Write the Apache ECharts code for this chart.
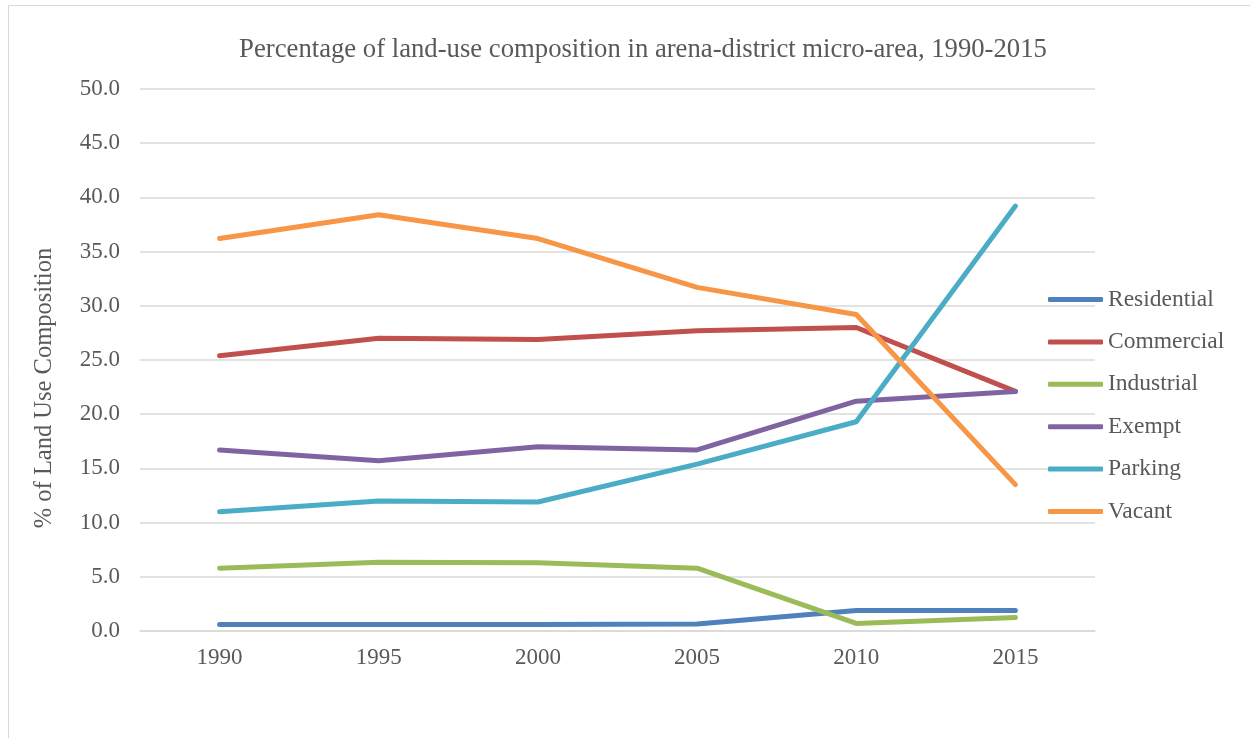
<!DOCTYPE html>
<html>
<head>
<meta charset="utf-8">
<script src="https://cdn.jsdelivr.net/npm/echarts@6/dist/echarts.min.js"></script>
<style>
  html, body { margin: 0; padding: 0; background: #fff; }
  #chart { width: 1250px; height: 738px; }
</style>
</head>
<body>
<div id="chart"></div>
<script>
const years = ['1990', '1995', '2000', '2005', '2010', '2015'];
const residential = [0.6, 0.6, 0.6, 0.65, 1.9, 1.9];
const commercial = [25.4, 27.0, 26.9, 27.7, 28.0, 22.1];
const industrial = [5.8, 6.35, 6.3, 5.8, 0.7, 1.25];
const exempt = [16.7, 15.7, 17.0, 16.7, 21.2, 22.1];
const parking = [11.0, 12.0, 11.9, 15.4, 19.3, 39.2];
const vacant = [36.2, 38.4, 36.2, 31.7, 29.2, 13.5];

const seriesList = [
    { name: 'Residential', data: residential, color: '#4F81BD' },
    { name: 'Commercial', data: commercial, color: '#C0504D' },
    { name: 'Industrial', data: industrial, color: '#9BBB59' },
    { name: 'Exempt', data: exempt, color: '#8064A2' },
    { name: 'Parking', data: parking, color: '#4BACC6' },
    { name: 'Vacant', data: vacant, color: '#F79646' }
];

const font = 'Liberation Serif';
const textColor = '#595959';

const chart = echarts.init(document.getElementById('chart'));
const option = {
    animation: false,
    backgroundColor: '#fff',
    title: {
        text: 'Percentage of land-use composition in arena-district micro-area, 1990-2015',
        left: 638,
        top: 31,
        textAlign: 'center',
        textStyle: { fontFamily: font, fontSize: 26.7, fontWeight: 'normal', color: textColor }
    },
    graphic: [
        {
            type: 'rect',
            shape: { x: 8.5, y: 5.5, width: 1300, height: 800 },
            style: { fill: 'none', stroke: '#D9D9D9', lineWidth: 1 },
            silent: true
        },
        {
            type: 'text',
            x: 45,
            y: 388,
            rotation: Math.PI / 2,
            style: {
                text: '% of Land Use Composition',
                fontFamily: font,
                fontSize: 24.5,
                fill: textColor,
                align: 'center',
                verticalAlign: 'middle'
            }
        }
    ],
    legend: {
        orient: 'vertical',
        left: 1048,
        top: 287.5,
        padding: 0,
        icon: 'roundRect',
        itemWidth: 55,
        itemHeight: 5,
        itemGap: 18.4,
        textStyle: { fontFamily: font, fontSize: 23.5, lineHeight: 23, color: textColor },
        data: seriesList.map(s => s.name)
    },
    grid: { left: 140, right: 155, top: 89, bottom: 107, containLabel: false },
    xAxis: {
        type: 'category',
        data: years,
        boundaryGap: true,
        axisLine: { show: true, lineStyle: { color: '#D9D9D9', width: 1.5 } },
        axisTick: { show: false },
        axisLabel: { fontFamily: font, fontSize: 23, color: textColor, margin: 15 }
    },
    yAxis: {
        type: 'value',
        min: 0,
        max: 50,
        interval: 5,
        axisLine: { show: false },
        axisTick: { show: false },
        splitLine: { lineStyle: { color: '#D9D9D9', width: 1.5 } },
        axisLabel: {
            fontFamily: font, fontSize: 23, color: textColor, margin: 20,
            formatter: v => v.toFixed(1)
        }
    },
    series: seriesList.map(s => ({
        name: s.name,
        type: 'line',
        data: s.data,
        symbol: 'none',
        color: s.color,
        lineStyle: { width: 5, color: s.color, cap: 'round', join: 'round' }
    }))
};
chart.setOption(option);
</script>
</body>
</html>
